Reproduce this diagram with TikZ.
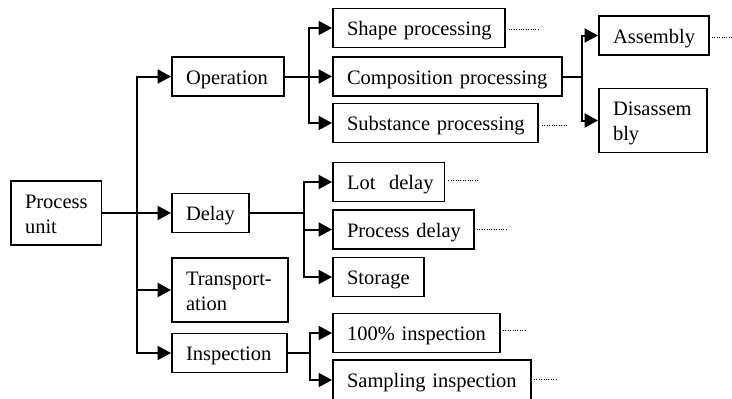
\documentclass[tikz,border=0pt]{standalone}
\usepackage{fontspec}
\setmainfont{Liberation Serif}
\usetikzlibrary{arrows.meta}
\begin{document}
\begin{tikzpicture}[x=1pt,y=-1pt,
  every node/.style={font=\fontsize{20.5}{25}\selectfont},
  box/.style={draw, line width=1.9pt, inner xsep=14pt, inner ysep=0pt,
    align=left, text width=#1, minimum height=39pt,
    text height=15pt, text depth=0pt},
  box2/.style={box=#1, minimum height=64pt, text depth=25pt},
  conn/.style={line width=2pt},
  arr/.style={conn, -{Triangle[length=13.5pt,width=14pt]}},
  dots/.style={line width=1pt, dash pattern=on 1pt off 1.4pt}]
\useasboundingbox (0,0) rectangle (732,399);
\clip (0,0) rectangle (732,399);

% first level
\node[box2=62.5pt] (unit) at (56.25,213) {\mbox{Process}\\\mbox{unit}};
\node[box=84pt] (oper) at (228,76.5) {\mbox{Operation}};
\node[box=49pt] (delay) at (210.5,213) {\mbox{Delay}};
\node[box2=88pt] (transp) at (230,290) {\mbox{Transport-}\\\mbox{ation}};
\node[box=87pt] (insp) at (229.5,353) {\mbox{Inspection}};

% operation kinds
\node[box=144pt] (shape) at (419,28) {\mbox{Shape processing}};
\node[box=201pt] (comp) at (447.5,76.5) {\mbox{Composition processing}};
\node[box=177pt] (subst) at (435.5,123) {\mbox{Substance processing}};
\node[box=82pt] (asm) at (654,35.5) {\mbox{Assembly}};
\node[box2=80pt] (disasm) at (653,120.5) {\mbox{Disassem}\\\mbox{bly}};

% delay kinds
\node[box=83.5pt] (lot) at (388.75,182) {\mbox{Lot~~delay}};
\node[box=113pt] (pdelay) at (403.5,229.5) {\mbox{Process delay}};
\node[box=63pt] (storage) at (378.5,277) {\mbox{Storage}};

% inspection kinds
\node[box=139pt] (full) at (416.5,333) {\mbox{100\% inspection}};
\node[box=170pt, minimum height=40pt] (sampl) at (432,380) {\mbox{Sampling inspection}};

% branch points
\coordinate (ut) at (137,213);
\coordinate (ot) at (308.5,76.5);
\coordinate (ct) at (581.5,76.5);
\coordinate (dt) at (303.5,213);
\coordinate (it) at (309.5,353);

% connectors
\draw[arr] (unit.east) -- (delay.west);
\draw[arr] (ut) |- (oper.west);
\draw[arr] (ut) |- (transp.west);
\draw[arr] (ut) |- (insp.west);

\draw[arr] (oper.east) -- (comp.west);
\draw[arr] (ot) |- (shape.west);
\draw[arr] (ot) |- (subst.west);

\draw[conn] (comp.east) -- (ct);
\draw[arr] (ct) |- (asm.west);
\draw[arr] (ct) |- (disasm.west);

\draw[conn] (delay.east) -- (dt);
\draw[arr] (dt) |- (lot.west);
\draw[arr] (dt) |- (pdelay.west);
\draw[arr] (dt) |- (storage.west);

\draw[conn] (insp.east) -- (it);
\draw[arr] (it) |- (full.west);
\draw[arr] (it) |- (sampl.west);

% continuation marks
\draw[dots] ([xshift=3pt,yshift=-1pt]shape.east) -- ++(29,0);
\draw[dots] ([xshift=2pt,yshift=-1.5pt]asm.east) -- ++(24,0);
\draw[dots] ([xshift=3pt,yshift=-2.5pt]subst.east) -- ++(26,0);
\draw[dots] ([xshift=3pt,yshift=2pt]lot.east) -- ++(31,0);
\draw[dots] ([xshift=2pt,yshift=0.5pt]pdelay.east) -- ++(29,0);
\draw[dots] ([xshift=2pt,yshift=3pt]full.east) -- ++(23,0);
\draw[dots] ([xshift=2pt,yshift=0.5pt]sampl.east) -- ++(23,0);
\end{tikzpicture}
\end{document}
